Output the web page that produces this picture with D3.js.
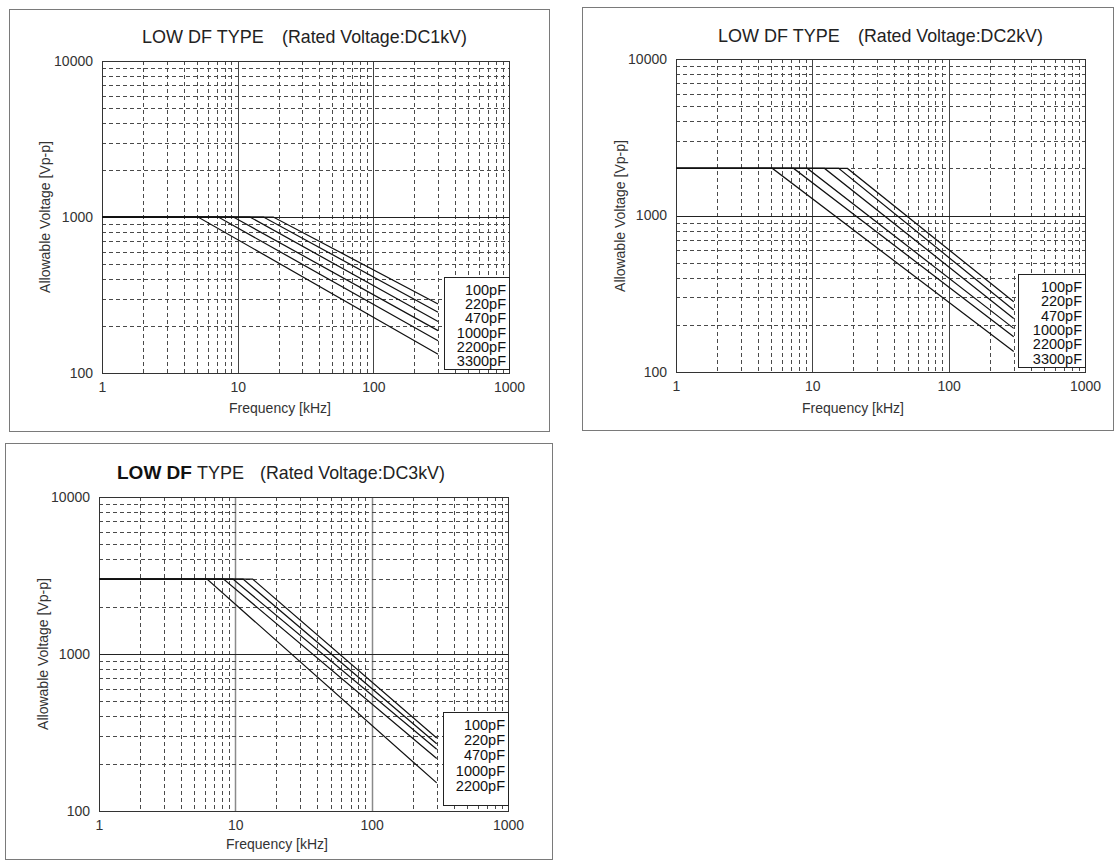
<!DOCTYPE html>
<html>
<head>
<meta charset="utf-8">
<script src="https://cdn.jsdelivr.net/npm/d3@7"></script>
<style>
  body { margin: 0; background: #fff; }
  text { font-family: "Liberation Sans", Arial, sans-serif; }
</style>
</head>
<body>
<svg id="chart" width="1116" height="861"></svg>
<script>
/**
 * DATA
 * */
const freqTicks = [1, 10, 100, 1000];
const voltTicks = [100, 1000, 10000];
const endFreq = 300; // kHz, every curve stops here

const caps6 = ["100pF", "220pF", "470pF", "1000pF", "2200pF", "3300pF"];
const caps5 = ["100pF", "220pF", "470pF", "1000pF", "2200pF"];

// DC1kV
const flat1kV = 1000;
const knee1kV = [18.3, 15.5, 12.3, 9.3, 7.2, 5.1];
const end1kV = [277, 245, 214, 187, 161, 132];

// DC2kV
const flat2kV = 2000;
const knee2kV = [18.1, 15.6, 12.3, 9.2, 7.3, 5.1];
const end2kV = [281, 249, 220, 190, 168, 135];

// DC3kV
const flat3kV = 3000;
const knee3kV = [13.4, 11.4, 9.6, 8.2, 6.2];
const end3kV = [292, 268, 247, 216, 151];

const svg = d3.select("#chart");

const isDecade = (d) => Math.abs(Math.log10(d) - Math.round(Math.log10(d))) < 1e-9;
const crisp = (v) => Math.round(v) + 0.5;

function drawChart(cfg) {
  const g = svg.append("g");
  const p = cfg.plot;

  // panel border
  g.append("rect")
    .attr("x", cfg.panel[0] + 0.5)
    .attr("y", cfg.panel[1] + 0.5)
    .attr("width", cfg.panel[2] - cfg.panel[0])
    .attr("height", cfg.panel[3] - cfg.panel[1])
    .attr("fill", "none")
    .attr("stroke", "#7a7a7a");

  // SCALES
  const xScale = d3.scaleLog().domain([1, 1000]).range([p.l, p.r]);
  const yScale = d3.scaleLog().domain([100, 10000]).range([p.b, p.t]);

  // grid (minor dashed, decades solid)
  const xs = xScale.ticks().filter((d) => d > 1 && d < 1000);
  const ys = yScale.ticks().filter((d) => d > 100 && d < 10000);

  g.append("g")
    .selectAll("line")
    .data(xs)
    .join("line")
    .attr("x1", (d) => crisp(xScale(d)))
    .attr("x2", (d) => crisp(xScale(d)))
    .attr("y1", p.t)
    .attr("y2", p.b)
    .attr("stroke", (d) => (isDecade(d) ? cfg.decadeColor : "#4a4a4a"))
    .attr("stroke-width", (d) => (isDecade(d) ? cfg.decadeWidth : 1))
    .attr("stroke-dasharray", (d) => (isDecade(d) ? null : "4,3"));

  g.append("g")
    .selectAll("line")
    .data(ys)
    .join("line")
    .attr("y1", (d) => crisp(yScale(d)))
    .attr("y2", (d) => crisp(yScale(d)))
    .attr("x1", p.l)
    .attr("x2", p.r)
    .attr("stroke", (d) => (isDecade(d) ? "#222" : "#4a4a4a"))
    .attr("stroke-dasharray", (d) => (isDecade(d) ? null : "4,3"));

  // plot frame
  g.append("rect")
    .attr("x", p.l + 0.5)
    .attr("y", p.t + 0.5)
    .attr("width", p.r - p.l)
    .attr("height", p.b - p.t)
    .attr("fill", "none")
    .attr("stroke", "#333");

  // AXES
  const xAxis = d3.axisBottom(xScale).tickValues(freqTicks).tickSize(0).tickPadding(9)
    .tickFormat(d3.format("d"));
  const yAxis = d3.axisLeft(yScale).tickValues(voltTicks).tickSize(0).tickPadding(9)
    .tickFormat(d3.format("d"));

  const gx = g.append("g")
    .attr("transform", `translate(0,${p.b})`)
    .call(xAxis);
  const gy = g.append("g")
    .attr("transform", `translate(${p.l},0)`)
    .call(yAxis);
  [gx, gy].forEach((a) => {
    a.select(".domain").remove();
    a.selectAll("text").attr("font-size", 14).attr("fill", "#333")
      .attr("font-family", '"Liberation Sans", Arial, sans-serif');
  });

  // axis titles
  g.append("text")
    .attr("x", cfg.xTitle[0])
    .attr("y", cfg.xTitle[1])
    .attr("text-anchor", "middle")
    .attr("font-size", 14)
    .attr("fill", "#333")
    .text("Frequency [kHz]");

  g.append("text")
    .attr("transform", `translate(${cfg.yTitle[0]},${cfg.yTitle[1]}) rotate(-90)`)
    .attr("text-anchor", "middle")
    .attr("font-size", 14)
    .attr("fill", "#333")
    .text("Allowable Voltage [Vp-p]");

  // title
  if (cfg.boldTitle) {
    g.append("text")
      .attr("x", cfg.title[0])
      .attr("y", cfg.title[2])
      .attr("font-size", 19)
      .attr("font-weight", "bold")
      .attr("font-family", "Lato, sans-serif")
      .attr("fill", "#111")
      .text("LOW DF");
    g.append("text")
      .attr("x", cfg.title[0] + 80)
      .attr("y", cfg.title[2])
      .attr("font-size", 18)
      .attr("fill", "#222")
      .text("TYPE");
  } else {
    g.append("text")
      .attr("x", cfg.title[0])
      .attr("y", cfg.title[2])
      .attr("font-size", 18)
      .attr("fill", "#222")
      .text("LOW DF TYPE");
  }
  g.append("text")
    .attr("x", cfg.title[1])
    .attr("y", cfg.title[2])
    .attr("font-size", 17.8)
    .attr("fill", "#222")
    .text(`(Rated Voltage:${cfg.rated})`);

  // curves
  const line = d3.line()
    .x((d) => xScale(d[0]))
    .y((d) => yScale(d[1]));

  const series = cfg.caps.map((c, i) => [
    [1, cfg.flat],
    [cfg.knee[i], cfg.flat],
    [endFreq, cfg.end[i]],
  ]);

  g.append("g")
    .selectAll("path")
    .data(series)
    .join("path")
    .attr("d", line)
    .attr("fill", "none")
    .attr("stroke", "#111")
    .attr("stroke-width", 1.25);

  // legend box
  const lg = cfg.legend;
  g.append("rect")
    .attr("x", lg.x0 + 0.5)
    .attr("y", lg.y0 + 0.5)
    .attr("width", p.r - lg.x0)
    .attr("height", lg.y1 - lg.y0)
    .attr("fill", "#fff")
    .attr("stroke", "#222");

  g.append("g")
    .selectAll("text")
    .data(cfg.caps)
    .join("text")
    .attr("x", p.r - 3)
    .attr("y", (d, i) => lg.first + i * lg.step)
    .attr("dy", "0.35em")
    .attr("text-anchor", "end")
    .attr("font-size", 14.5)
    .attr("fill", "#111")
    .text((d) => d);
}

drawChart({
  panel: [9, 9, 549, 431],
  plot: { l: 102, r: 509, t: 61, b: 373 },
  title: [142, 282, 43],
  rated: "DC1kV",
  xTitle: [280, 413],
  yTitle: [50, 217],
  caps: caps6, flat: flat1kV, knee: knee1kV, end: end1kV,
  legend: { x0: 444, y0: 277, y1: 369, first: 290, step: 14.2 },
  decadeColor: "#444", decadeWidth: 1,
});

drawChart({
  panel: [582, 7, 1113, 430],
  plot: { l: 676, r: 1085, t: 59, b: 372 },
  title: [718, 858, 41.5],
  rated: "DC2kV",
  xTitle: [853, 413],
  yTitle: [625, 216],
  caps: caps6, flat: flat2kV, knee: knee2kV, end: end2kV,
  legend: { x0: 1018, y0: 274, y1: 367, first: 287, step: 14.3 },
  decadeColor: "#444", decadeWidth: 1,
});

drawChart({
  panel: [5, 443, 552, 859],
  plot: { l: 99, r: 508, t: 497, b: 811 },
  title: [117, 260, 479],
  rated: "DC3kV",
  boldTitle: true,
  xTitle: [277, 849],
  yTitle: [48, 654],
  caps: caps5, flat: flat3kV, knee: knee3kV, end: end3kV,
  legend: { x0: 443, y0: 712, y1: 805, first: 725, step: 15.2 },
  decadeColor: "#8a8a8a", decadeWidth: 1.5,
});
</script>
</body>
</html>
